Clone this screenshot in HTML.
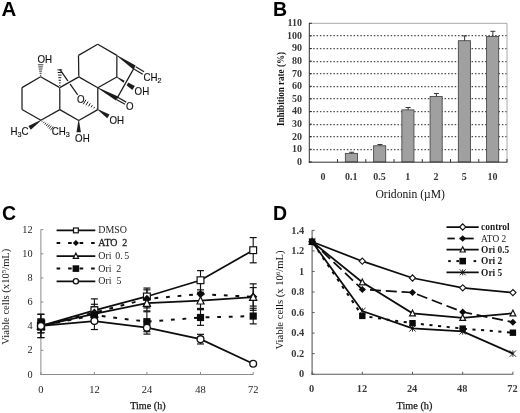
<!DOCTYPE html>
<html>
<head>
<meta charset="utf-8">
<title>Figure</title>
<style>
html,body{margin:0;padding:0;background:#fff;}
body{width:520px;height:413px;overflow:hidden;font-family:"Liberation Serif",serif;}
svg{display:block;will-change:transform;filter:grayscale(1);}
text{white-space:pre;}
</style>
</head>
<body>
<svg width="520" height="413" viewBox="0 0 520 413">
<rect x="0" y="0" width="520" height="413" fill="#ffffff"/>
<g id="panelA">
<line x1="40.60" y1="76.80" x2="22.00" y2="87.60" stroke="#1c1c1c" stroke-width="1.25" />
<line x1="22.00" y1="87.60" x2="22.00" y2="109.50" stroke="#1c1c1c" stroke-width="1.25" />
<line x1="22.00" y1="109.50" x2="40.90" y2="120.30" stroke="#1c1c1c" stroke-width="1.25" />
<line x1="40.90" y1="120.30" x2="59.80" y2="109.60" stroke="#1c1c1c" stroke-width="1.25" />
<line x1="59.80" y1="109.60" x2="59.80" y2="87.60" stroke="#1c1c1c" stroke-width="1.25" />
<line x1="59.80" y1="87.60" x2="40.60" y2="76.80" stroke="#1c1c1c" stroke-width="1.25" />
<line x1="78.80" y1="76.90" x2="97.80" y2="87.70" stroke="#1c1c1c" stroke-width="1.25" />
<line x1="97.80" y1="87.70" x2="97.80" y2="109.60" stroke="#1c1c1c" stroke-width="1.25" />
<line x1="97.80" y1="109.60" x2="78.70" y2="120.50" stroke="#1c1c1c" stroke-width="1.25" />
<line x1="78.70" y1="120.50" x2="59.80" y2="109.60" stroke="#1c1c1c" stroke-width="1.25" />
<line x1="78.80" y1="76.90" x2="78.50" y2="55.40" stroke="#1c1c1c" stroke-width="1.25" />
<line x1="78.50" y1="55.40" x2="97.70" y2="44.20" stroke="#1c1c1c" stroke-width="1.25" />
<line x1="97.70" y1="44.20" x2="116.90" y2="55.40" stroke="#1c1c1c" stroke-width="1.25" />
<line x1="116.90" y1="55.40" x2="116.80" y2="77.00" stroke="#1c1c1c" stroke-width="1.25" />
<line x1="116.80" y1="77.00" x2="97.80" y2="87.70" stroke="#1c1c1c" stroke-width="1.25" />
<line x1="59.80" y1="69.30" x2="77.70" y2="94.90" stroke="#1c1c1c" stroke-width="1.25" />
<line x1="59.80" y1="87.60" x2="78.80" y2="76.90" stroke="#fff" stroke-width="3.6" />
<line x1="59.80" y1="87.60" x2="78.80" y2="76.90" stroke="#1c1c1c" stroke-width="1.25" />
<polygon points="117.07,55.15 116.73,55.65 133.10,69.30 135.70,65.50" fill="#1c1c1c"/>
<polygon points="116.96,76.75 116.64,77.25 132.34,89.92 134.86,86.08" fill="#1c1c1c"/>
<line x1="131.00" y1="73.50" x2="121.00" y2="91.30" stroke="#fff" stroke-width="4.0" />
<line x1="134.40" y1="67.40" x2="117.00" y2="98.40" stroke="#1c1c1c" stroke-width="1.25" />
<polygon points="97.95,87.44 97.65,87.96 115.88,100.41 118.12,96.39" fill="#1c1c1c"/>
<line x1="134.31" y1="69.16" x2="142.71" y2="74.16" stroke="#1c1c1c" stroke-width="1.2" /><line x1="135.69" y1="66.84" x2="144.09" y2="71.84" stroke="#1c1c1c" stroke-width="1.2" />
<line x1="116.39" y1="99.49" x2="124.99" y2="104.29" stroke="#1c1c1c" stroke-width="1.2" /><line x1="117.61" y1="97.31" x2="126.21" y2="102.11" stroke="#1c1c1c" stroke-width="1.2" />
<line x1="40.01" y1="75.36" x2="41.19" y2="75.36" stroke="#1c1c1c" stroke-width="0.9" /><line x1="39.59" y1="73.25" x2="41.61" y2="73.25" stroke="#1c1c1c" stroke-width="0.9" /><line x1="39.17" y1="71.14" x2="42.03" y2="71.14" stroke="#1c1c1c" stroke-width="0.9" /><line x1="38.74" y1="69.02" x2="42.46" y2="69.02" stroke="#1c1c1c" stroke-width="0.9" /><line x1="38.32" y1="66.91" x2="42.88" y2="66.91" stroke="#1c1c1c" stroke-width="0.9" /><line x1="37.90" y1="64.80" x2="43.30" y2="64.80" stroke="#1c1c1c" stroke-width="0.9" />
<line x1="59.25" y1="85.48" x2="60.35" y2="85.48" stroke="#1c1c1c" stroke-width="1.0" /><line x1="58.94" y1="82.88" x2="60.66" y2="82.88" stroke="#1c1c1c" stroke-width="1.0" /><line x1="58.63" y1="80.28" x2="60.97" y2="80.28" stroke="#1c1c1c" stroke-width="1.0" /><line x1="58.32" y1="77.69" x2="61.28" y2="77.69" stroke="#1c1c1c" stroke-width="1.0" /><line x1="58.02" y1="75.09" x2="61.58" y2="75.09" stroke="#1c1c1c" stroke-width="1.0" /><line x1="57.71" y1="72.50" x2="61.89" y2="72.50" stroke="#1c1c1c" stroke-width="1.0" /><line x1="57.40" y1="69.90" x2="62.20" y2="69.90" stroke="#1c1c1c" stroke-width="1.0" />
<line x1="96.45" y1="109.26" x2="96.75" y2="108.74" stroke="#1c1c1c" stroke-width="1.0" /><line x1="93.82" y1="108.26" x2="94.58" y2="106.94" stroke="#1c1c1c" stroke-width="1.0" /><line x1="91.19" y1="107.25" x2="92.41" y2="105.15" stroke="#1c1c1c" stroke-width="1.0" /><line x1="88.55" y1="106.25" x2="90.25" y2="103.35" stroke="#1c1c1c" stroke-width="1.0" /><line x1="85.92" y1="105.25" x2="88.08" y2="101.55" stroke="#1c1c1c" stroke-width="1.0" /><line x1="83.29" y1="104.25" x2="85.91" y2="99.75" stroke="#1c1c1c" stroke-width="1.0" />
<polygon points="97.96,109.35 97.64,109.85 107.21,118.25 109.59,114.55" fill="#1c1c1c"/>
<polygon points="79.00,120.50 78.40,120.50 76.50,132.20 80.90,132.20" fill="#1c1c1c"/>
<polygon points="41.07,120.55 40.73,120.05 28.38,125.97 30.82,129.63" fill="#1c1c1c"/>
<line x1="42.52" y1="120.85" x2="41.89" y2="121.70" stroke="#1c1c1c" stroke-width="0.9" /><line x1="44.29" y1="121.81" x2="43.33" y2="123.11" stroke="#1c1c1c" stroke-width="0.9" /><line x1="46.05" y1="122.78" x2="44.76" y2="124.52" stroke="#1c1c1c" stroke-width="0.9" /><line x1="47.82" y1="123.74" x2="46.19" y2="125.93" stroke="#1c1c1c" stroke-width="0.9" /><line x1="49.58" y1="124.71" x2="47.62" y2="127.34" stroke="#1c1c1c" stroke-width="0.9" /><line x1="51.35" y1="125.67" x2="49.06" y2="128.75" stroke="#1c1c1c" stroke-width="0.9" /><line x1="53.11" y1="126.63" x2="50.49" y2="130.17" stroke="#1c1c1c" stroke-width="0.9" />
<text transform="translate(37.40,62.80) scale(0.955,1)" font-family="'Liberation Sans', sans-serif" font-size="10.2" fill="#111" stroke="#111" stroke-width="0.15">OH</text>
<text transform="translate(143.40,80.70) scale(0.955,1)" font-family="'Liberation Sans', sans-serif" font-size="10.2" fill="#111" stroke="#111" stroke-width="0.15">CH<tspan font-size="7.6" dy="2.2">2</tspan></text>
<text transform="translate(134.60,94.80) scale(0.955,1)" font-family="'Liberation Sans', sans-serif" font-size="10.2" fill="#111" stroke="#111" stroke-width="0.15">OH</text>
<text transform="translate(125.90,109.50) scale(0.955,1)" font-family="'Liberation Sans', sans-serif" font-size="10.2" fill="#111" stroke="#111" stroke-width="0.15">O</text>
<text transform="translate(76.90,103.40) scale(0.955,1)" font-family="'Liberation Sans', sans-serif" font-size="10.2" fill="#111" stroke="#111" stroke-width="0.15">O</text>
<text transform="translate(109.50,124.00) scale(0.955,1)" font-family="'Liberation Sans', sans-serif" font-size="10.2" fill="#111" stroke="#111" stroke-width="0.15">OH</text>
<text transform="translate(75.10,141.80) scale(0.955,1)" font-family="'Liberation Sans', sans-serif" font-size="10.2" fill="#111" stroke="#111" stroke-width="0.15">OH</text>
<text transform="translate(10.50,135.00) scale(0.955,1)" font-family="'Liberation Sans', sans-serif" font-size="10.2" fill="#111" stroke="#111" stroke-width="0.15">H<tspan font-size="7.6" dy="2.2">3</tspan><tspan dy="-2.2">C</tspan></text>
<text transform="translate(51.70,134.50) scale(0.955,1)" font-family="'Liberation Sans', sans-serif" font-size="10.2" fill="#111" stroke="#111" stroke-width="0.15">CH<tspan font-size="7.6" dy="2.2">3</tspan></text>
<text transform="translate(1.5,15.8) scale(1.05,1)" font-family="'Liberation Sans', sans-serif" font-size="19.5" font-weight="bold" fill="#000">A</text>
<text x="272.9" y="15.5" font-family="'Liberation Sans', sans-serif" font-size="19.5" font-weight="bold" fill="#000">B</text>
<text x="2.0" y="220.3" font-family="'Liberation Sans', sans-serif" font-size="19.5" font-weight="bold" fill="#000">C</text>
<text x="273.0" y="220.3" font-family="'Liberation Sans', sans-serif" font-size="19.5" font-weight="bold" fill="#000">D</text>
</g>
<g id="panelB">
<line x1="309.80" y1="149.50" x2="507.00" y2="149.50" stroke="#4f4f4f" stroke-width="1.25" stroke-dasharray="1.5 1.87"/>
<line x1="309.80" y1="136.50" x2="507.00" y2="136.50" stroke="#4f4f4f" stroke-width="1.25" stroke-dasharray="1.5 1.87"/>
<line x1="309.80" y1="124.50" x2="507.00" y2="124.50" stroke="#4f4f4f" stroke-width="1.25" stroke-dasharray="1.5 1.87"/>
<line x1="309.80" y1="111.50" x2="507.00" y2="111.50" stroke="#4f4f4f" stroke-width="1.25" stroke-dasharray="1.5 1.87"/>
<line x1="309.80" y1="98.50" x2="507.00" y2="98.50" stroke="#4f4f4f" stroke-width="1.25" stroke-dasharray="1.5 1.87"/>
<line x1="309.80" y1="86.50" x2="507.00" y2="86.50" stroke="#4f4f4f" stroke-width="1.25" stroke-dasharray="1.5 1.87"/>
<line x1="309.80" y1="73.50" x2="507.00" y2="73.50" stroke="#4f4f4f" stroke-width="1.25" stroke-dasharray="1.5 1.87"/>
<line x1="309.80" y1="61.50" x2="507.00" y2="61.50" stroke="#4f4f4f" stroke-width="1.25" stroke-dasharray="1.5 1.87"/>
<line x1="309.80" y1="48.50" x2="507.00" y2="48.50" stroke="#4f4f4f" stroke-width="1.25" stroke-dasharray="1.5 1.87"/>
<line x1="309.80" y1="35.50" x2="507.00" y2="35.50" stroke="#4f4f4f" stroke-width="1.25" stroke-dasharray="1.5 1.87"/>
<line x1="309.30" y1="23.30" x2="507.00" y2="23.30" stroke="#a8a8a8" stroke-width="1" />
<line x1="507.00" y1="23.30" x2="507.00" y2="161.90" stroke="#a8a8a8" stroke-width="1" />
<rect x="345.36" y="153.40" width="12.1" height="8.50" fill="#a0a0a0" stroke="#4a4a4a" stroke-width="0.9"/>
<line x1="351.66" y1="153.40" x2="351.66" y2="152.26" stroke="#333" stroke-width="1" />
<line x1="349.16" y1="152.26" x2="354.16" y2="152.26" stroke="#333" stroke-width="1" />
<rect x="373.61" y="145.77" width="12.1" height="16.13" fill="#a0a0a0" stroke="#4a4a4a" stroke-width="0.9"/>
<line x1="379.91" y1="145.77" x2="379.91" y2="144.51" stroke="#333" stroke-width="1" />
<line x1="377.41" y1="144.51" x2="382.41" y2="144.51" stroke="#333" stroke-width="1" />
<rect x="401.85" y="109.86" width="12.1" height="52.04" fill="#a0a0a0" stroke="#4a4a4a" stroke-width="0.9"/>
<line x1="408.15" y1="109.86" x2="408.15" y2="107.47" stroke="#333" stroke-width="1" />
<line x1="405.65" y1="107.47" x2="410.65" y2="107.47" stroke="#333" stroke-width="1" />
<rect x="430.09" y="96.51" width="12.1" height="65.39" fill="#a0a0a0" stroke="#4a4a4a" stroke-width="0.9"/>
<line x1="436.39" y1="96.51" x2="436.39" y2="93.48" stroke="#333" stroke-width="1" />
<line x1="433.89" y1="93.48" x2="438.89" y2="93.48" stroke="#333" stroke-width="1" />
<rect x="458.34" y="40.69" width="12.1" height="121.21" fill="#a0a0a0" stroke="#4a4a4a" stroke-width="0.9"/>
<line x1="464.64" y1="40.69" x2="464.64" y2="35.90" stroke="#333" stroke-width="1" />
<line x1="462.14" y1="35.90" x2="467.14" y2="35.90" stroke="#333" stroke-width="1" />
<rect x="486.58" y="36.53" width="12.1" height="125.37" fill="#a0a0a0" stroke="#4a4a4a" stroke-width="0.9"/>
<line x1="492.88" y1="36.53" x2="492.88" y2="31.30" stroke="#333" stroke-width="1" />
<line x1="490.38" y1="31.30" x2="495.38" y2="31.30" stroke="#333" stroke-width="1" />
<line x1="309.30" y1="22.90" x2="309.30" y2="162.70" stroke="#303030" stroke-width="1.0" />
<line x1="308.80" y1="162.20" x2="507.30" y2="162.20" stroke="#303030" stroke-width="1.0" />
<line x1="337.54" y1="159.10" x2="337.54" y2="162.20" stroke="#303030" stroke-width="1" />
<line x1="365.79" y1="159.10" x2="365.79" y2="162.20" stroke="#303030" stroke-width="1" />
<line x1="394.03" y1="159.10" x2="394.03" y2="162.20" stroke="#303030" stroke-width="1" />
<line x1="422.27" y1="159.10" x2="422.27" y2="162.20" stroke="#303030" stroke-width="1" />
<line x1="450.51" y1="159.10" x2="450.51" y2="162.20" stroke="#303030" stroke-width="1" />
<line x1="478.76" y1="159.10" x2="478.76" y2="162.20" stroke="#303030" stroke-width="1" />
<line x1="507.00" y1="159.10" x2="507.00" y2="162.20" stroke="#303030" stroke-width="1" />
<line x1="309.30" y1="161.90" x2="311.80" y2="161.90" stroke="#2a2a2a" stroke-width="1" />
<text x="301.90" y="164.70" font-family="'Liberation Serif', serif" font-size="10" font-weight="bold" text-anchor="end" fill="#383838" >0</text>
<line x1="309.30" y1="149.30" x2="311.80" y2="149.30" stroke="#2a2a2a" stroke-width="1" />
<text x="301.90" y="152.10" font-family="'Liberation Serif', serif" font-size="10" font-weight="bold" text-anchor="end" fill="#383838" >10</text>
<line x1="309.30" y1="136.70" x2="311.80" y2="136.70" stroke="#2a2a2a" stroke-width="1" />
<text x="301.90" y="139.50" font-family="'Liberation Serif', serif" font-size="10" font-weight="bold" text-anchor="end" fill="#383838" >20</text>
<line x1="309.30" y1="124.10" x2="311.80" y2="124.10" stroke="#2a2a2a" stroke-width="1" />
<text x="301.90" y="126.90" font-family="'Liberation Serif', serif" font-size="10" font-weight="bold" text-anchor="end" fill="#383838" >30</text>
<line x1="309.30" y1="111.50" x2="311.80" y2="111.50" stroke="#2a2a2a" stroke-width="1" />
<text x="301.90" y="114.30" font-family="'Liberation Serif', serif" font-size="10" font-weight="bold" text-anchor="end" fill="#383838" >40</text>
<line x1="309.30" y1="98.90" x2="311.80" y2="98.90" stroke="#2a2a2a" stroke-width="1" />
<text x="301.90" y="101.70" font-family="'Liberation Serif', serif" font-size="10" font-weight="bold" text-anchor="end" fill="#383838" >50</text>
<line x1="309.30" y1="86.30" x2="311.80" y2="86.30" stroke="#2a2a2a" stroke-width="1" />
<text x="301.90" y="89.10" font-family="'Liberation Serif', serif" font-size="10" font-weight="bold" text-anchor="end" fill="#383838" >60</text>
<line x1="309.30" y1="73.70" x2="311.80" y2="73.70" stroke="#2a2a2a" stroke-width="1" />
<text x="301.90" y="76.50" font-family="'Liberation Serif', serif" font-size="10" font-weight="bold" text-anchor="end" fill="#383838" >70</text>
<line x1="309.30" y1="61.10" x2="311.80" y2="61.10" stroke="#2a2a2a" stroke-width="1" />
<text x="301.90" y="63.90" font-family="'Liberation Serif', serif" font-size="10" font-weight="bold" text-anchor="end" fill="#383838" >80</text>
<line x1="309.30" y1="48.50" x2="311.80" y2="48.50" stroke="#2a2a2a" stroke-width="1" />
<text x="301.90" y="51.30" font-family="'Liberation Serif', serif" font-size="10" font-weight="bold" text-anchor="end" fill="#383838" >90</text>
<line x1="309.30" y1="35.90" x2="311.80" y2="35.90" stroke="#2a2a2a" stroke-width="1" />
<text x="301.90" y="38.70" font-family="'Liberation Serif', serif" font-size="10" font-weight="bold" text-anchor="end" fill="#383838" >100</text>
<line x1="309.30" y1="23.30" x2="311.80" y2="23.30" stroke="#2a2a2a" stroke-width="1" />
<text x="301.90" y="26.10" font-family="'Liberation Serif', serif" font-size="10" font-weight="bold" text-anchor="end" fill="#383838" >110</text>
<text x="323.12" y="179.60" font-family="'Liberation Serif', serif" font-size="10" font-weight="bold" text-anchor="middle" fill="#383838" >0</text>
<text x="351.36" y="179.60" font-family="'Liberation Serif', serif" font-size="10" font-weight="bold" text-anchor="middle" fill="#383838" >0.1</text>
<text x="379.61" y="179.60" font-family="'Liberation Serif', serif" font-size="10" font-weight="bold" text-anchor="middle" fill="#383838" >0.5</text>
<text x="407.85" y="179.60" font-family="'Liberation Serif', serif" font-size="10" font-weight="bold" text-anchor="middle" fill="#383838" >1</text>
<text x="436.09" y="179.60" font-family="'Liberation Serif', serif" font-size="10" font-weight="bold" text-anchor="middle" fill="#383838" >2</text>
<text x="464.34" y="179.60" font-family="'Liberation Serif', serif" font-size="10" font-weight="bold" text-anchor="middle" fill="#383838" >5</text>
<text x="492.58" y="179.60" font-family="'Liberation Serif', serif" font-size="10" font-weight="bold" text-anchor="middle" fill="#383838" >10</text>
<text x="375.40" y="197.70" font-family="'Liberation Serif', serif" font-size="11.6" font-weight="normal" text-anchor="start" fill="#111" textLength="69.6" lengthAdjust="spacingAndGlyphs">Oridonin (&#181;M)</text>
<text transform="translate(284.4,89) rotate(-90)" font-family="'Liberation Serif', serif" font-size="10" font-weight="bold" text-anchor="middle" fill="#111" textLength="74" lengthAdjust="spacingAndGlyphs">Inhibition rate (%)</text>
</g>
<g id="panelC">
<line x1="40.90" y1="229.30" x2="40.90" y2="375.00" stroke="#8c8c8c" stroke-width="1" />
<line x1="40.40" y1="374.50" x2="253.40" y2="374.50" stroke="#8c8c8c" stroke-width="1" />
<line x1="40.90" y1="374.50" x2="43.40" y2="374.50" stroke="#8c8c8c" stroke-width="1" />
<text transform="translate(32.60,377.60) scale(0.9,1)" font-family="'Liberation Serif', serif" font-size="11.4" font-weight="normal" text-anchor="end" fill="#222" >0</text>
<line x1="40.90" y1="350.36" x2="43.40" y2="350.36" stroke="#8c8c8c" stroke-width="1" />
<text transform="translate(32.60,353.46) scale(0.9,1)" font-family="'Liberation Serif', serif" font-size="11.4" font-weight="normal" text-anchor="end" fill="#222" >2</text>
<line x1="40.90" y1="326.22" x2="43.40" y2="326.22" stroke="#8c8c8c" stroke-width="1" />
<text transform="translate(32.60,329.32) scale(0.9,1)" font-family="'Liberation Serif', serif" font-size="11.4" font-weight="normal" text-anchor="end" fill="#222" >4</text>
<line x1="40.90" y1="302.08" x2="43.40" y2="302.08" stroke="#8c8c8c" stroke-width="1" />
<text transform="translate(32.60,305.18) scale(0.9,1)" font-family="'Liberation Serif', serif" font-size="11.4" font-weight="normal" text-anchor="end" fill="#222" >6</text>
<line x1="40.90" y1="277.94" x2="43.40" y2="277.94" stroke="#8c8c8c" stroke-width="1" />
<text transform="translate(32.60,281.04) scale(0.9,1)" font-family="'Liberation Serif', serif" font-size="11.4" font-weight="normal" text-anchor="end" fill="#222" >8</text>
<line x1="40.90" y1="253.80" x2="43.40" y2="253.80" stroke="#8c8c8c" stroke-width="1" />
<text transform="translate(32.60,256.90) scale(0.9,1)" font-family="'Liberation Serif', serif" font-size="11.4" font-weight="normal" text-anchor="end" fill="#222" >10</text>
<line x1="40.90" y1="229.66" x2="43.40" y2="229.66" stroke="#8c8c8c" stroke-width="1" />
<text transform="translate(32.60,232.76) scale(0.9,1)" font-family="'Liberation Serif', serif" font-size="11.4" font-weight="normal" text-anchor="end" fill="#222" >12</text>
<line x1="40.90" y1="372.00" x2="40.90" y2="374.50" stroke="#8c8c8c" stroke-width="1" />
<text transform="translate(40.90,393.00) scale(0.92,1)" font-family="'Liberation Serif', serif" font-size="11.4" font-weight="normal" text-anchor="middle" fill="#222" >0</text>
<line x1="94.40" y1="372.00" x2="94.40" y2="374.50" stroke="#8c8c8c" stroke-width="1" />
<text transform="translate(94.40,393.00) scale(0.92,1)" font-family="'Liberation Serif', serif" font-size="11.4" font-weight="normal" text-anchor="middle" fill="#222" >12</text>
<line x1="146.90" y1="372.00" x2="146.90" y2="374.50" stroke="#8c8c8c" stroke-width="1" />
<text transform="translate(146.90,393.00) scale(0.92,1)" font-family="'Liberation Serif', serif" font-size="11.4" font-weight="normal" text-anchor="middle" fill="#222" >24</text>
<line x1="200.50" y1="372.00" x2="200.50" y2="374.50" stroke="#8c8c8c" stroke-width="1" />
<text transform="translate(200.50,393.00) scale(0.92,1)" font-family="'Liberation Serif', serif" font-size="11.4" font-weight="normal" text-anchor="middle" fill="#222" >48</text>
<line x1="253.20" y1="372.00" x2="253.20" y2="374.50" stroke="#8c8c8c" stroke-width="1" />
<text transform="translate(253.20,393.00) scale(0.92,1)" font-family="'Liberation Serif', serif" font-size="11.4" font-weight="normal" text-anchor="middle" fill="#222" >72</text>
<text x="130.20" y="409.20" font-family="'Liberation Serif', serif" font-size="9.8" font-weight="normal" text-anchor="start" fill="#1a1a1a" textLength="35.4" lengthAdjust="spacingAndGlyphs" stroke="#1a1a1a" stroke-width="0.25">Time (h)</text>
<text transform="translate(9.0,296.7) rotate(-90)" font-family="'Liberation Serif', serif" font-size="10.4" text-anchor="middle" fill="#222" textLength="96" lengthAdjust="spacingAndGlyphs">Viable cells (x10<tspan font-size="7" dy="-3.4">5</tspan><tspan dy="3.4">/mL)</tspan></text>
<line x1="40.90" y1="314.26" x2="40.90" y2="337.58" stroke="#111" stroke-width="1.1" />
<line x1="37.40" y1="314.26" x2="44.40" y2="314.26" stroke="#111" stroke-width="1.2" />
<line x1="37.40" y1="337.58" x2="44.40" y2="337.58" stroke="#111" stroke-width="1.2" />
<line x1="94.40" y1="298.88" x2="94.40" y2="321.71" stroke="#111" stroke-width="1.1" />
<line x1="90.90" y1="298.88" x2="97.90" y2="298.88" stroke="#111" stroke-width="1.2" />
<line x1="90.90" y1="321.71" x2="97.90" y2="321.71" stroke="#111" stroke-width="1.2" />
<line x1="146.90" y1="288.06" x2="146.90" y2="304.88" stroke="#111" stroke-width="1.1" />
<line x1="143.40" y1="288.06" x2="150.40" y2="288.06" stroke="#111" stroke-width="1.2" />
<line x1="143.40" y1="304.88" x2="150.40" y2="304.88" stroke="#111" stroke-width="1.2" />
<line x1="200.50" y1="270.63" x2="200.50" y2="289.86" stroke="#111" stroke-width="1.1" />
<line x1="197.00" y1="270.63" x2="204.00" y2="270.63" stroke="#111" stroke-width="1.2" />
<line x1="197.00" y1="289.86" x2="204.00" y2="289.86" stroke="#111" stroke-width="1.2" />
<line x1="253.20" y1="237.57" x2="253.20" y2="262.81" stroke="#111" stroke-width="1.1" />
<line x1="249.70" y1="237.57" x2="256.70" y2="237.57" stroke="#111" stroke-width="1.2" />
<line x1="249.70" y1="262.81" x2="256.70" y2="262.81" stroke="#111" stroke-width="1.2" />
<line x1="40.90" y1="319.07" x2="40.90" y2="332.77" stroke="#111" stroke-width="1.1" />
<line x1="37.40" y1="319.07" x2="44.40" y2="319.07" stroke="#111" stroke-width="1.2" />
<line x1="37.40" y1="332.77" x2="44.40" y2="332.77" stroke="#111" stroke-width="1.2" />
<line x1="94.40" y1="304.28" x2="94.40" y2="321.11" stroke="#111" stroke-width="1.1" />
<line x1="90.90" y1="304.28" x2="97.90" y2="304.28" stroke="#111" stroke-width="1.2" />
<line x1="90.90" y1="321.11" x2="97.90" y2="321.11" stroke="#111" stroke-width="1.2" />
<line x1="146.90" y1="289.86" x2="146.90" y2="307.89" stroke="#111" stroke-width="1.1" />
<line x1="143.40" y1="289.86" x2="150.40" y2="289.86" stroke="#111" stroke-width="1.2" />
<line x1="143.40" y1="307.89" x2="150.40" y2="307.89" stroke="#111" stroke-width="1.2" />
<line x1="200.50" y1="279.64" x2="200.50" y2="308.49" stroke="#111" stroke-width="1.1" />
<line x1="197.00" y1="279.64" x2="204.00" y2="279.64" stroke="#111" stroke-width="1.2" />
<line x1="197.00" y1="308.49" x2="204.00" y2="308.49" stroke="#111" stroke-width="1.2" />
<line x1="253.20" y1="287.58" x2="253.20" y2="306.09" stroke="#111" stroke-width="1.1" />
<line x1="249.70" y1="287.58" x2="256.70" y2="287.58" stroke="#111" stroke-width="1.2" />
<line x1="249.70" y1="306.09" x2="256.70" y2="306.09" stroke="#111" stroke-width="1.2" />
<line x1="40.90" y1="319.07" x2="40.90" y2="332.77" stroke="#111" stroke-width="1.1" />
<line x1="37.40" y1="319.07" x2="44.40" y2="319.07" stroke="#111" stroke-width="1.2" />
<line x1="37.40" y1="332.77" x2="44.40" y2="332.77" stroke="#111" stroke-width="1.2" />
<line x1="94.40" y1="306.69" x2="94.40" y2="321.11" stroke="#111" stroke-width="1.1" />
<line x1="90.90" y1="306.69" x2="97.90" y2="306.69" stroke="#111" stroke-width="1.2" />
<line x1="90.90" y1="321.11" x2="97.90" y2="321.11" stroke="#111" stroke-width="1.2" />
<line x1="146.90" y1="295.27" x2="146.90" y2="310.89" stroke="#111" stroke-width="1.1" />
<line x1="143.40" y1="295.27" x2="150.40" y2="295.27" stroke="#111" stroke-width="1.2" />
<line x1="143.40" y1="310.89" x2="150.40" y2="310.89" stroke="#111" stroke-width="1.2" />
<line x1="200.50" y1="292.26" x2="200.50" y2="309.09" stroke="#111" stroke-width="1.1" />
<line x1="197.00" y1="292.26" x2="204.00" y2="292.26" stroke="#111" stroke-width="1.2" />
<line x1="197.00" y1="309.09" x2="204.00" y2="309.09" stroke="#111" stroke-width="1.2" />
<line x1="253.20" y1="283.85" x2="253.20" y2="310.29" stroke="#111" stroke-width="1.1" />
<line x1="249.70" y1="283.85" x2="256.70" y2="283.85" stroke="#111" stroke-width="1.2" />
<line x1="249.70" y1="310.29" x2="256.70" y2="310.29" stroke="#111" stroke-width="1.2" />
<line x1="40.90" y1="314.26" x2="40.90" y2="337.58" stroke="#111" stroke-width="1.1" />
<line x1="37.40" y1="314.26" x2="44.40" y2="314.26" stroke="#111" stroke-width="1.2" />
<line x1="37.40" y1="337.58" x2="44.40" y2="337.58" stroke="#111" stroke-width="1.2" />
<line x1="94.40" y1="307.89" x2="94.40" y2="322.31" stroke="#111" stroke-width="1.1" />
<line x1="90.90" y1="307.89" x2="97.90" y2="307.89" stroke="#111" stroke-width="1.2" />
<line x1="90.90" y1="322.31" x2="97.90" y2="322.31" stroke="#111" stroke-width="1.2" />
<line x1="146.90" y1="311.74" x2="146.90" y2="331.69" stroke="#111" stroke-width="1.1" />
<line x1="143.40" y1="311.74" x2="150.40" y2="311.74" stroke="#111" stroke-width="1.2" />
<line x1="143.40" y1="331.69" x2="150.40" y2="331.69" stroke="#111" stroke-width="1.2" />
<line x1="200.50" y1="309.69" x2="200.50" y2="325.32" stroke="#111" stroke-width="1.1" />
<line x1="197.00" y1="309.69" x2="204.00" y2="309.69" stroke="#111" stroke-width="1.2" />
<line x1="197.00" y1="325.32" x2="204.00" y2="325.32" stroke="#111" stroke-width="1.2" />
<line x1="253.20" y1="308.25" x2="253.20" y2="323.88" stroke="#111" stroke-width="1.1" />
<line x1="249.70" y1="308.25" x2="256.70" y2="308.25" stroke="#111" stroke-width="1.2" />
<line x1="249.70" y1="323.88" x2="256.70" y2="323.88" stroke="#111" stroke-width="1.2" />
<line x1="40.90" y1="322.92" x2="40.90" y2="328.93" stroke="#111" stroke-width="1.1" />
<line x1="37.40" y1="322.92" x2="44.40" y2="322.92" stroke="#111" stroke-width="1.2" />
<line x1="37.40" y1="328.93" x2="44.40" y2="328.93" stroke="#111" stroke-width="1.2" />
<line x1="94.40" y1="312.70" x2="94.40" y2="329.53" stroke="#111" stroke-width="1.1" />
<line x1="90.90" y1="312.70" x2="97.90" y2="312.70" stroke="#111" stroke-width="1.2" />
<line x1="90.90" y1="329.53" x2="97.90" y2="329.53" stroke="#111" stroke-width="1.2" />
<line x1="146.90" y1="321.35" x2="146.90" y2="334.09" stroke="#111" stroke-width="1.1" />
<line x1="143.40" y1="321.35" x2="150.40" y2="321.35" stroke="#111" stroke-width="1.2" />
<line x1="143.40" y1="334.09" x2="150.40" y2="334.09" stroke="#111" stroke-width="1.2" />
<line x1="200.50" y1="334.33" x2="200.50" y2="343.95" stroke="#111" stroke-width="1.1" />
<line x1="197.00" y1="334.33" x2="204.00" y2="334.33" stroke="#111" stroke-width="1.2" />
<line x1="197.00" y1="343.95" x2="204.00" y2="343.95" stroke="#111" stroke-width="1.2" />
<polyline points="40.90,325.92 94.40,310.29 146.90,296.47 200.50,280.24 253.20,250.19" fill="none" stroke="#0d0d0d" stroke-width="1.75"/>
<polyline points="40.90,325.92 94.40,312.70 146.90,298.88 200.50,294.07 253.20,296.83" fill="none" stroke="#0d0d0d" stroke-width="2.0" stroke-dasharray="3.8 7.8" stroke-dashoffset="-1"/>
<polyline points="40.90,325.92 94.40,313.90 146.90,303.08 200.50,300.68 253.20,297.07" fill="none" stroke="#0d0d0d" stroke-width="1.75"/>
<polyline points="40.90,325.92 94.40,315.10 146.90,321.71 200.50,317.51 253.20,316.06" fill="none" stroke="#0d0d0d" stroke-width="2.0" stroke-dasharray="3.8 7.8" stroke-dashoffset="-4"/>
<polyline points="40.90,325.92 94.40,321.11 146.90,327.72 200.50,339.14 253.20,363.78" fill="none" stroke="#0d0d0d" stroke-width="1.75"/>
<rect x="37.50" y="322.52" width="6.8" height="6.8" fill="#fff" stroke="#111" stroke-width="1.2"/>
<rect x="91.00" y="306.89" width="6.8" height="6.8" fill="#fff" stroke="#111" stroke-width="1.2"/>
<rect x="143.50" y="293.07" width="6.8" height="6.8" fill="#fff" stroke="#111" stroke-width="1.2"/>
<rect x="197.10" y="276.84" width="6.8" height="6.8" fill="#fff" stroke="#111" stroke-width="1.2"/>
<rect x="249.80" y="246.79" width="6.8" height="6.8" fill="#fff" stroke="#111" stroke-width="1.2"/>
<polygon points="36.80,325.92 40.90,321.82 45.00,325.92 40.90,330.02" fill="#0a0a0a"/>
<polygon points="90.30,312.70 94.40,308.60 98.50,312.70 94.40,316.80" fill="#0a0a0a"/>
<polygon points="142.80,298.88 146.90,294.77 151.00,298.88 146.90,302.98" fill="#0a0a0a"/>
<polygon points="196.40,294.07 200.50,289.97 204.60,294.07 200.50,298.17" fill="#0a0a0a"/>
<polygon points="249.10,296.83 253.20,292.73 257.30,296.83 253.20,300.93" fill="#0a0a0a"/>
<polygon points="37.30,329.22 40.90,322.02 44.50,329.22" fill="#fff" stroke="#111" stroke-width="1.2"/>
<polygon points="90.80,317.20 94.40,310.00 98.00,317.20" fill="#fff" stroke="#111" stroke-width="1.2"/>
<polygon points="143.30,306.38 146.90,299.18 150.50,306.38" fill="#fff" stroke="#111" stroke-width="1.2"/>
<polygon points="196.90,303.98 200.50,296.78 204.10,303.98" fill="#fff" stroke="#111" stroke-width="1.2"/>
<polygon points="249.60,300.37 253.20,293.17 256.80,300.37" fill="#fff" stroke="#111" stroke-width="1.2"/>
<rect x="37.30" y="322.32" width="7.2" height="7.2" fill="#0a0a0a"/>
<rect x="90.80" y="311.50" width="7.2" height="7.2" fill="#0a0a0a"/>
<rect x="143.30" y="318.11" width="7.2" height="7.2" fill="#0a0a0a"/>
<rect x="196.90" y="313.91" width="7.2" height="7.2" fill="#0a0a0a"/>
<rect x="249.60" y="312.46" width="7.2" height="7.2" fill="#0a0a0a"/>
<rect x="37.2" y="319.4" width="8.0" height="11.3" fill="#0a0a0a"/>
<circle cx="40.90" cy="325.92" r="3.4" fill="#fff" stroke="#111" stroke-width="1.3"/>
<circle cx="94.40" cy="321.11" r="3.4" fill="#fff" stroke="#111" stroke-width="1.3"/>
<circle cx="146.90" cy="327.72" r="3.4" fill="#fff" stroke="#111" stroke-width="1.3"/>
<circle cx="200.50" cy="339.14" r="3.4" fill="#fff" stroke="#111" stroke-width="1.3"/>
<circle cx="253.20" cy="363.78" r="3.4" fill="#fff" stroke="#111" stroke-width="1.3"/>
<polyline points="56.60,230.40 95.30,230.40" fill="none" stroke="#0d0d0d" stroke-width="1.75"/>
<rect x="73.50" y="228.00" width="4.8" height="4.8" fill="#fff" stroke="#111" stroke-width="1.2"/>
<text transform="translate(98.30,233.30) scale(0.93,1)" font-family="'Liberation Serif', serif" font-size="10.7" font-weight="normal" text-anchor="start" fill="#262626" >DMSO</text>
<polyline points="56.60,243.00 95.30,243.00" fill="none" stroke="#0d0d0d" stroke-width="2.0" stroke-dasharray="3.6 7.9"/>
<polygon points="72.80,243.00 75.90,239.90 79.00,243.00 75.90,246.10" fill="#0a0a0a"/>
<text transform="translate(98.30,245.90) scale(0.93,1)" font-family="'Liberation Serif', serif" font-size="10.7" font-weight="normal" text-anchor="start" fill="#262626" stroke="#222" stroke-width="0.3">ATO <tspan dx="2.6">2</tspan></text>
<polyline points="56.60,256.00 95.30,256.00" fill="none" stroke="#0d0d0d" stroke-width="1.75"/>
<polygon points="73.30,258.30 75.90,253.10 78.50,258.30" fill="#fff" stroke="#111" stroke-width="1.2"/>
<text transform="translate(98.30,258.90) scale(0.93,1)" font-family="'Liberation Serif', serif" font-size="10.7" font-weight="normal" text-anchor="start" fill="#262626" >Ori <tspan dx="1.2">0.</tspan><tspan dx="1.8">5</tspan></text>
<polyline points="56.60,268.60 95.30,268.60" fill="none" stroke="#0d0d0d" stroke-width="2.0" stroke-dasharray="3.6 7.9"/>
<rect x="72.60" y="265.30" width="6.6" height="6.6" fill="#0a0a0a"/>
<text transform="translate(98.30,271.50) scale(0.93,1)" font-family="'Liberation Serif', serif" font-size="10.7" font-weight="normal" text-anchor="start" fill="#262626" >Ori <tspan dx="2.4">2</tspan></text>
<polyline points="56.60,281.30 95.30,281.30" fill="none" stroke="#0d0d0d" stroke-width="1.75"/>
<circle cx="75.90" cy="281.30" r="2.6" fill="#fff" stroke="#111" stroke-width="1.3"/>
<text transform="translate(98.30,284.20) scale(0.93,1)" font-family="'Liberation Serif', serif" font-size="10.7" font-weight="normal" text-anchor="start" fill="#262626" >Ori <tspan dx="2.6">5</tspan></text>
</g>
<g id="panelD">
<line x1="312.10" y1="230.30" x2="312.10" y2="374.70" stroke="#5a5a5a" stroke-width="1.1" />
<line x1="311.60" y1="374.20" x2="513.20" y2="374.20" stroke="#5a5a5a" stroke-width="1.1" />
<line x1="312.10" y1="374.20" x2="314.60" y2="374.20" stroke="#5a5a5a" stroke-width="1" />
<text x="304.20" y="377.40" font-family="'Liberation Serif', serif" font-size="10.4" font-weight="bold" text-anchor="end" fill="#3a3a3a" >0</text>
<line x1="312.10" y1="353.65" x2="314.60" y2="353.65" stroke="#5a5a5a" stroke-width="1" />
<text x="304.20" y="356.85" font-family="'Liberation Serif', serif" font-size="10.4" font-weight="bold" text-anchor="end" fill="#3a3a3a" >0.2</text>
<line x1="312.10" y1="333.10" x2="314.60" y2="333.10" stroke="#5a5a5a" stroke-width="1" />
<text x="304.20" y="336.30" font-family="'Liberation Serif', serif" font-size="10.4" font-weight="bold" text-anchor="end" fill="#3a3a3a" >0.4</text>
<line x1="312.10" y1="312.55" x2="314.60" y2="312.55" stroke="#5a5a5a" stroke-width="1" />
<text x="304.20" y="315.75" font-family="'Liberation Serif', serif" font-size="10.4" font-weight="bold" text-anchor="end" fill="#3a3a3a" >0.6</text>
<line x1="312.10" y1="292.00" x2="314.60" y2="292.00" stroke="#5a5a5a" stroke-width="1" />
<text x="304.20" y="295.20" font-family="'Liberation Serif', serif" font-size="10.4" font-weight="bold" text-anchor="end" fill="#3a3a3a" >0.8</text>
<line x1="312.10" y1="271.45" x2="314.60" y2="271.45" stroke="#5a5a5a" stroke-width="1" />
<text x="304.20" y="274.65" font-family="'Liberation Serif', serif" font-size="10.4" font-weight="bold" text-anchor="end" fill="#3a3a3a" >1</text>
<line x1="312.10" y1="250.90" x2="314.60" y2="250.90" stroke="#5a5a5a" stroke-width="1" />
<text x="304.20" y="254.10" font-family="'Liberation Serif', serif" font-size="10.4" font-weight="bold" text-anchor="end" fill="#3a3a3a" >1.2</text>
<line x1="312.10" y1="230.35" x2="314.60" y2="230.35" stroke="#5a5a5a" stroke-width="1" />
<text x="304.20" y="233.55" font-family="'Liberation Serif', serif" font-size="10.4" font-weight="bold" text-anchor="end" fill="#3a3a3a" >1.4</text>
<line x1="312.10" y1="371.70" x2="312.10" y2="374.20" stroke="#5a5a5a" stroke-width="1" />
<text x="311.70" y="391.50" font-family="'Liberation Serif', serif" font-size="10.4" font-weight="bold" text-anchor="middle" fill="#3a3a3a" >0</text>
<line x1="362.30" y1="371.70" x2="362.30" y2="374.20" stroke="#5a5a5a" stroke-width="1" />
<text x="361.90" y="391.50" font-family="'Liberation Serif', serif" font-size="10.4" font-weight="bold" text-anchor="middle" fill="#3a3a3a" >12</text>
<line x1="412.50" y1="371.70" x2="412.50" y2="374.20" stroke="#5a5a5a" stroke-width="1" />
<text x="412.10" y="391.50" font-family="'Liberation Serif', serif" font-size="10.4" font-weight="bold" text-anchor="middle" fill="#3a3a3a" >24</text>
<line x1="462.70" y1="371.70" x2="462.70" y2="374.20" stroke="#5a5a5a" stroke-width="1" />
<text x="462.30" y="391.50" font-family="'Liberation Serif', serif" font-size="10.4" font-weight="bold" text-anchor="middle" fill="#3a3a3a" >48</text>
<line x1="512.90" y1="371.70" x2="512.90" y2="374.20" stroke="#5a5a5a" stroke-width="1" />
<text x="512.50" y="391.50" font-family="'Liberation Serif', serif" font-size="10.4" font-weight="bold" text-anchor="middle" fill="#3a3a3a" >72</text>
<text x="396.60" y="409.20" font-family="'Liberation Serif', serif" font-size="9.8" font-weight="normal" text-anchor="start" fill="#1a1a1a" textLength="35.8" lengthAdjust="spacingAndGlyphs" stroke="#1a1a1a" stroke-width="0.25">Time (h)</text>
<text transform="translate(283.3,300) rotate(-90)" font-family="'Liberation Serif', serif" font-size="10.4" text-anchor="middle" fill="#111" textLength="99" lengthAdjust="spacingAndGlyphs">Viable cells (x 10<tspan font-size="7" dy="-3.4">6</tspan><tspan dy="3.4">/mL)</tspan></text>
<polyline points="312.10,241.70 362.30,261.20 412.50,278.00 462.70,287.80 512.90,292.60" fill="none" stroke="#0d0d0d" stroke-width="1.75"/>
<polyline points="312.10,241.70 362.30,289.40 412.50,292.50 462.70,312.00 512.90,322.20" fill="none" stroke="#0d0d0d" stroke-width="1.75" stroke-dasharray="11 4.8" stroke-dashoffset="2"/>
<polyline points="312.10,241.70 362.30,282.20 412.50,313.30 462.70,317.80 512.90,313.30" fill="none" stroke="#0d0d0d" stroke-width="1.75"/>
<polyline points="312.10,241.70 362.30,315.90 412.50,323.20 462.70,328.60 512.90,332.70" fill="none" stroke="#0d0d0d" stroke-width="2.0" stroke-dasharray="3.1 5.55" stroke-dashoffset="-1.65"/>
<polyline points="312.10,241.70 362.30,311.00 412.50,328.40 462.70,331.40 512.90,353.60" fill="none" stroke="#0d0d0d" stroke-width="1.75"/>
<polygon points="309.00,241.70 312.10,238.60 315.20,241.70 312.10,244.80" fill="#fff" stroke="#111" stroke-width="1.1"/>
<polygon points="359.20,261.20 362.30,258.10 365.40,261.20 362.30,264.30" fill="#fff" stroke="#111" stroke-width="1.1"/>
<polygon points="409.40,278.00 412.50,274.90 415.60,278.00 412.50,281.10" fill="#fff" stroke="#111" stroke-width="1.1"/>
<polygon points="459.60,287.80 462.70,284.70 465.80,287.80 462.70,290.90" fill="#fff" stroke="#111" stroke-width="1.1"/>
<polygon points="509.80,292.60 512.90,289.50 516.00,292.60 512.90,295.70" fill="#fff" stroke="#111" stroke-width="1.1"/>
<polygon points="308.60,241.70 312.10,238.20 315.60,241.70 312.10,245.20" fill="#0a0a0a"/>
<polygon points="358.80,289.40 362.30,285.90 365.80,289.40 362.30,292.90" fill="#0a0a0a"/>
<polygon points="409.00,292.50 412.50,289.00 416.00,292.50 412.50,296.00" fill="#0a0a0a"/>
<polygon points="459.20,312.00 462.70,308.50 466.20,312.00 462.70,315.50" fill="#0a0a0a"/>
<polygon points="509.40,322.20 512.90,318.70 516.40,322.20 512.90,325.70" fill="#0a0a0a"/>
<polygon points="309.20,244.30 312.10,238.50 315.00,244.30" fill="#fff" stroke="#111" stroke-width="1.2"/>
<polygon points="359.40,284.80 362.30,279.00 365.20,284.80" fill="#fff" stroke="#111" stroke-width="1.2"/>
<polygon points="409.60,315.90 412.50,310.10 415.40,315.90" fill="#fff" stroke="#111" stroke-width="1.2"/>
<polygon points="459.80,320.40 462.70,314.60 465.60,320.40" fill="#fff" stroke="#111" stroke-width="1.2"/>
<polygon points="510.00,315.90 512.90,310.10 515.80,315.90" fill="#fff" stroke="#111" stroke-width="1.2"/>
<rect x="308.90" y="238.50" width="6.4" height="6.4" fill="#0a0a0a"/>
<rect x="359.10" y="312.70" width="6.4" height="6.4" fill="#0a0a0a"/>
<rect x="409.30" y="320.00" width="6.4" height="6.4" fill="#0a0a0a"/>
<rect x="459.50" y="325.40" width="6.4" height="6.4" fill="#0a0a0a"/>
<rect x="509.70" y="329.50" width="6.4" height="6.4" fill="#0a0a0a"/>
<line x1="308.90" y1="238.50" x2="315.30" y2="244.90" stroke="#111" stroke-width="0.9" /><line x1="308.90" y1="244.90" x2="315.30" y2="238.50" stroke="#111" stroke-width="0.9" /><line x1="312.10" y1="238.50" x2="312.10" y2="244.90" stroke="#111" stroke-width="0.9" />
<line x1="359.10" y1="307.80" x2="365.50" y2="314.20" stroke="#111" stroke-width="0.9" /><line x1="359.10" y1="314.20" x2="365.50" y2="307.80" stroke="#111" stroke-width="0.9" /><line x1="362.30" y1="307.80" x2="362.30" y2="314.20" stroke="#111" stroke-width="0.9" />
<line x1="409.30" y1="325.20" x2="415.70" y2="331.60" stroke="#111" stroke-width="0.9" /><line x1="409.30" y1="331.60" x2="415.70" y2="325.20" stroke="#111" stroke-width="0.9" /><line x1="412.50" y1="325.20" x2="412.50" y2="331.60" stroke="#111" stroke-width="0.9" />
<line x1="459.50" y1="328.20" x2="465.90" y2="334.60" stroke="#111" stroke-width="0.9" /><line x1="459.50" y1="334.60" x2="465.90" y2="328.20" stroke="#111" stroke-width="0.9" /><line x1="462.70" y1="328.20" x2="462.70" y2="334.60" stroke="#111" stroke-width="0.9" />
<line x1="509.70" y1="350.40" x2="516.10" y2="356.80" stroke="#111" stroke-width="0.9" /><line x1="509.70" y1="356.80" x2="516.10" y2="350.40" stroke="#111" stroke-width="0.9" /><line x1="512.90" y1="350.40" x2="512.90" y2="356.80" stroke="#111" stroke-width="0.9" />
<polyline points="446.50,227.00 478.70,227.00" fill="none" stroke="#0d0d0d" stroke-width="1.75"/>
<polygon points="459.60,227.00 462.70,223.90 465.80,227.00 462.70,230.10" fill="#fff" stroke="#111" stroke-width="1.1"/>
<text x="481.10" y="230.30" font-family="'Liberation Serif', serif" font-size="9.4" font-weight="bold" text-anchor="start" fill="#1c1c1c" >control</text>
<polyline points="447.40,238.50 454.80,238.50" fill="none" stroke="#0d0d0d" stroke-width="1.75"/>
<polyline points="459.50,238.50 473.70,238.50" fill="none" stroke="#0d0d0d" stroke-width="1.75"/>
<polygon points="459.40,238.50 462.70,235.20 466.00,238.50 462.70,241.80" fill="#0a0a0a"/>
<text x="481.10" y="241.80" font-family="'Liberation Serif', serif" font-size="9.4" font-weight="normal" text-anchor="start" fill="#1c1c1c" >ATO 2</text>
<polyline points="446.50,249.70 478.70,249.70" fill="none" stroke="#0d0d0d" stroke-width="1.75"/>
<polygon points="460.10,252.00 462.70,246.80 465.30,252.00" fill="#fff" stroke="#111" stroke-width="1.2"/>
<text x="481.10" y="253.00" font-family="'Liberation Serif', serif" font-size="9.4" font-weight="bold" text-anchor="start" fill="#1c1c1c" >Ori 0.5</text>
<polyline points="448.20,261.10 450.80,261.10" fill="none" stroke="#0d0d0d" stroke-width="2.0"/>
<polyline points="456.40,261.10 459.00,261.10" fill="none" stroke="#0d0d0d" stroke-width="2.0"/>
<polyline points="473.60,261.10 476.20,261.10" fill="none" stroke="#0d0d0d" stroke-width="2.0"/>
<rect x="459.40" y="257.80" width="6.6" height="6.6" fill="#0a0a0a"/>
<text x="481.10" y="264.40" font-family="'Liberation Serif', serif" font-size="9.4" font-weight="bold" text-anchor="start" fill="#1c1c1c" >Ori 2</text>
<polyline points="446.50,272.30 478.70,272.30" fill="none" stroke="#0d0d0d" stroke-width="1.75"/>
<line x1="459.70" y1="269.30" x2="465.70" y2="275.30" stroke="#111" stroke-width="0.9" /><line x1="459.70" y1="275.30" x2="465.70" y2="269.30" stroke="#111" stroke-width="0.9" /><line x1="462.70" y1="269.30" x2="462.70" y2="275.30" stroke="#111" stroke-width="0.9" />
<text x="481.10" y="275.60" font-family="'Liberation Serif', serif" font-size="9.4" font-weight="bold" text-anchor="start" fill="#1c1c1c" >Ori 5</text>
</g>
</svg>
</body>
</html>
